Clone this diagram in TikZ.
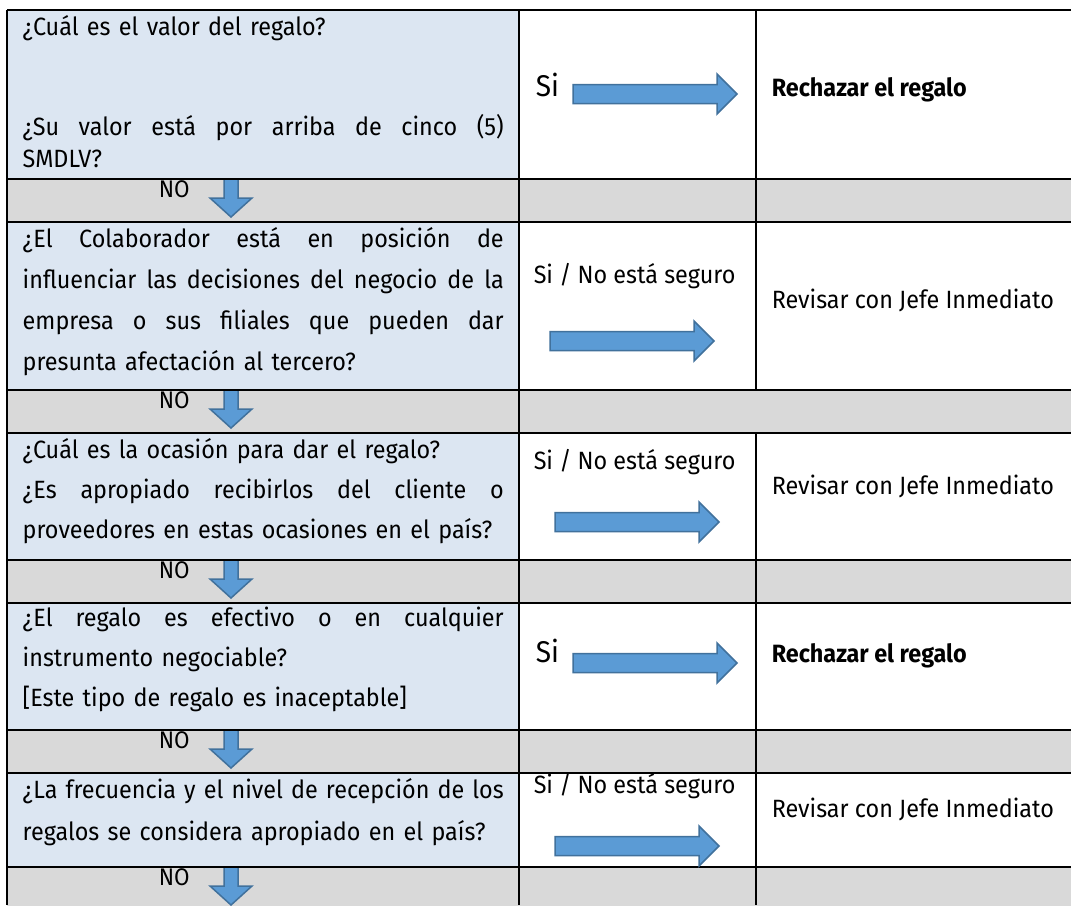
\documentclass[tikz,border=0pt]{standalone}
\usepackage{fontspec}
\setmainfont{Fira Sans}[FakeStretch=0.935]
\usepackage{tikz}
\definecolor{cellblue}{HTML}{DCE6F2}
\definecolor{rowgrey}{HTML}{D9D9D9}
\definecolor{arrowblue}{HTML}{5B9BD5}
\definecolor{arrowline}{HTML}{41719C}
\newcommand{\jline}[1]{\leavevmode\hbox to 481pt{\spaceskip=.25em plus 1fil\relax#1}}
\tikzset{
  question/.style={anchor=base west,inner sep=0pt,text width=490pt,align=left,font=\fontsize{25}{40}\selectfont},
  answer/.style={anchor=mid west,inner sep=0pt,font=\fontsize{25}{30}\selectfont},
  verdict/.style={answer,font=\fontsize{25}{30}\selectfont\bfseries},
  sitext/.style={answer,font=\fontsize{30}{34}\selectfont},
  notext/.style={anchor=mid west,inner sep=0pt,font=\fontsize{24}{28}\selectfont},
  blockarrow/.style={fill=arrowblue,draw=arrowline,line width=1.5pt,line join=miter},
  rarrow/.pic={\filldraw[blockarrow] (0,-9.5) -- (144,-9.5) -- (144,-20) -- (164,0) -- (144,20) -- (144,9.5) -- (0,9.5) -- cycle;},
  darrow/.pic={\filldraw[blockarrow] (-7,0) -- (-7,19) -- (-21,19) -- (0,38) -- (21,19) -- (7,19) -- (7,0) -- cycle;}
}
\begin{document}
\begin{tikzpicture}[x=1pt,y=-1pt,line width=1.5pt]
\useasboundingbox (0,0) rectangle (1071,905);
\fill[white] (0,0) rectangle (1071,905);
\foreach \t/\b in {10/179,222/390,433/560,603/730,773/867}
  \fill[cellblue] (7,\t) rectangle (519,\b);
\foreach \t/\b [count=\i] in {179/222,390/433,560/603,730/773,867/910}{
  \fill[rowgrey] (7,\t) rectangle (1071,\b);
  \node[notext] (no\i) at (158,\t+16) {NO};
  \pic at (231,\t) {darrow};
}
\foreach \y in {10,179,222,390,433,560,603,730,773,867}
  \draw (7,\y) -- (1071,\y);
\draw (7,10) -- (7,905) (519,10) -- (519,905);
\draw (756,10) -- (756,390) (756,433) -- (756,905);

\node[question] (q1) at (22,35) {¿Cuál es el valor del regalo?\\[60pt]\jline{¿Su valor está por arriba de cinco (5)}\\[-8pt]SMDLV?};
\node[question,font=\fontsize{25}{41}\selectfont] (q2) at (22,247) {\jline{¿El Colaborador está en posición de}\\\jline{influenciar las decisiones del negocio de la}\\\jline{empresa o sus filiales que pueden dar}\\presunta afectación al tercero?};
\node[question] (q3) at (22,458) {¿Cuál es la ocasión para dar el regalo?\\\jline{¿Es apropiado recibirlos del cliente o}\\proveedores en estas ocasiones en el país?};
\node[question] (q4) at (22,626) {\jline{¿El regalo es efectivo o en cualquier}\\instrumento negociable?\\{}[Este tipo de regalo es inaceptable]};
\node[question,font=\fontsize{25}{42}\selectfont] (q5) at (22,798) {\jline{¿La frecuencia y el nivel de recepción de los}\\regalos se considera apropiado en el país?};

\node[sitext] (si1) at (535,94) {Si};
\pic at (573,94) {rarrow};
\node[verdict] (res1) at (771,94) {Rechazar el regalo};

\node[answer] (si2) at (533,281) {Si / No está seguro};
\pic at (550,341) {rarrow};
\node[answer] (res2) at (771,306) {Revisar con Jefe Inmediato};

\node[answer] (si3) at (533,467) {Si / No está seguro};
\pic at (555,522) {rarrow};
\node[answer] (res3) at (771,492) {Revisar con Jefe Inmediato};

\node[sitext] (si4) at (535,660) {Si};
\pic at (573,663) {rarrow};
\node[verdict] (res4) at (771,660) {Rechazar el regalo};

\node[answer] (si5) at (533,791) {Si / No está seguro};
\pic at (555,846) {rarrow};
\node[answer] (res5) at (771,815) {Revisar con Jefe Inmediato};
\end{tikzpicture}
\end{document}
